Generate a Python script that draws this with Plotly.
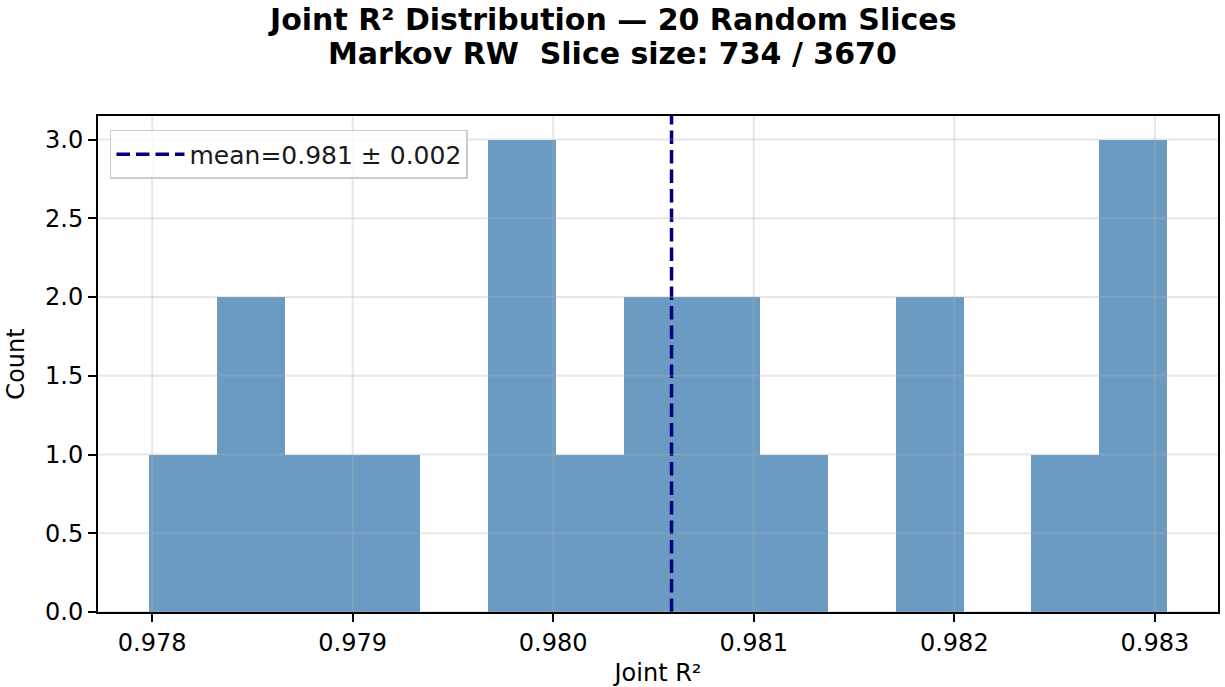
import plotly.graph_objects as go

# ---- data ----
bin_edges = [0.977984, 0.978322, 0.978661, 0.978999, 0.979338, 0.979676,
             0.980015, 0.980353, 0.980692, 0.981030, 0.981369, 0.981707,
             0.982046, 0.982384, 0.982723, 0.983061]
counts = [1, 2, 1, 1, 0, 3, 1, 2, 2, 1, 0, 2, 0, 1, 3]
mean_r2 = 0.98059
std_r2 = 0.0016
x_ticks = [0.978, 0.979, 0.980, 0.981, 0.982, 0.983]
y_ticks = [0.0, 0.5, 1.0, 1.5, 2.0, 2.5, 3.0]
title_lines = ["Joint R² Distribution — 20 Random Slices",
               "Markov RW\u00a0 Slice size: 734 / 3670"]

FONT = "DejaVu Sans"
W, H = 1225, 687
M = dict(l=98, r=7, t=116, b=75)

centers = [(a + b) / 2 for a, b in zip(bin_edges[:-1], bin_edges[1:])]
widths = [b - a for a, b in zip(bin_edges[:-1], bin_edges[1:])]

span = bin_edges[-1] - bin_edges[0]
x_range = [bin_edges[0] - 0.05 * span, bin_edges[-1] + 0.05 * span]
y_range = [0, max(counts) * 1.05]

fig = go.Figure()
fig.add_trace(go.Bar(
    x=centers, y=counts, width=widths,
    marker=dict(color="rgba(70,130,180,0.8)", line=dict(width=0)),
    showlegend=False, hoverinfo="skip",
))
fig.add_trace(go.Scatter(
    x=[mean_r2, mean_r2], y=y_range, mode="lines",
    line=dict(color="#000080", width=3.5, dash="13.5px,6px"),
    name=f"mean={mean_r2:.3f} ± {std_r2:.3f}",
))

# grid drawn above the bars (as in matplotlib)
grid_color = "rgba(176,176,176,0.3)"
for xv in x_ticks:
    fig.add_shape(type="line", xref="x", yref="y domain", x0=xv, x1=xv, y0=0, y1=1,
                  line=dict(color=grid_color, width=2), layer="above")
for yv in y_ticks:
    fig.add_shape(type="line", xref="x domain", yref="y", x0=0, x1=1, y0=yv, y1=yv,
                  line=dict(color=grid_color, width=2), layer="above")

# two-line bold title, centred on the figure
plot_h = H - M["t"] - M["b"]
plot_w = W - M["l"] - M["r"]
for line_text, y_px in zip(title_lines, [20, 53]):
    fig.add_annotation(
        text=f"<b>{line_text}</b>", showarrow=False,
        xref="paper", yref="paper",
        x=(W / 2 - M["l"]) / plot_w, y=(H - M["b"] - y_px) / plot_h,
        xanchor="center", yanchor="middle",
        font=dict(family=FONT, size=30, color="black"),
    )

fig.update_layout(
    width=W, height=H,
    margin=dict(**M, autoexpand=False),
    plot_bgcolor="white", paper_bgcolor="white",
    font=dict(family=FONT, size=24, color="black"),
    bargap=0,
    legend=dict(
        x=0.0107, y=0.972, xanchor="left", yanchor="top",
        bgcolor="rgba(255,255,255,0.8)", bordercolor="#cccccc", borderwidth=1.5,
        font=dict(family=FONT, size=25, color="#1a1a1a"),
        itemwidth=68,
    ),
    xaxis=dict(
        range=x_range, tickvals=x_ticks, tickformat=".3f",
        showgrid=False, zeroline=False,
        showline=True, linecolor="black", linewidth=2, mirror=True,
        ticks="outside", ticklen=8, tickwidth=2, tickcolor="black",
        title=dict(text="Joint R²", standoff=10, font=dict(size=24)),
        automargin=False,
    ),
    yaxis=dict(
        range=y_range, tickvals=y_ticks, tickformat=".1f",
        showgrid=False, zeroline=False,
        showline=True, linecolor="black", linewidth=2, mirror=True,
        ticks="outside", ticklen=8, tickwidth=2, tickcolor="black",
        title=dict(text="Count", standoff=14, font=dict(size=24)),
        automargin=False,
    ),
)

fig.write_html("out.html", config={"displayModeBar": False},
               post_script="document.body.style.margin='0';")
